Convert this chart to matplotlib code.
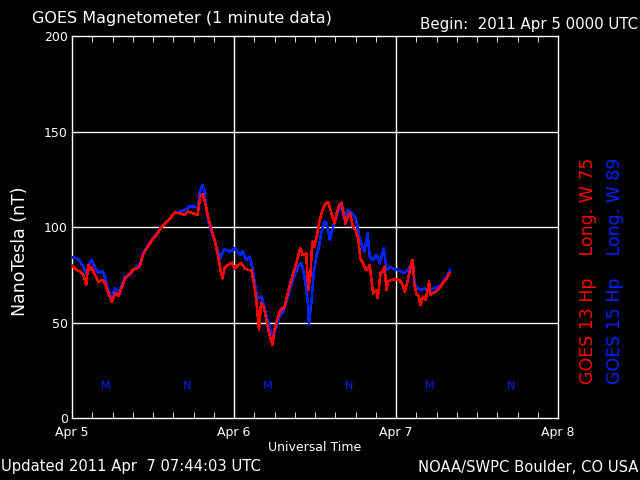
import matplotlib
matplotlib.use("Agg")
import matplotlib.pyplot as plt

# hours since 2011 Apr 5 00:00 UTC, field in nT
red_hours = [0.0, 0.7, 1.2, 1.7, 2.1, 2.4, 2.7, 2.9, 3.4, 3.9, 4.5, 4.9, 5.4, 5.9, 6.4, 6.9,
             7.4, 7.8, 8.6, 9.1, 9.6, 10.1, 10.5, 11.3, 12.0, 12.8, 13.3, 14.5, 15.2, 16.0,
             16.7, 17.2, 17.9, 18.6, 19.0, 19.3, 19.7, 20.1, 20.6, 21.2, 21.6, 22.0, 22.3,
             22.6, 23.1, 23.7, 24.1, 24.6, 25.1, 25.6, 26.1, 26.6, 26.9, 27.3, 27.7, 28.0,
             28.4, 28.8, 29.2, 29.7, 30.0, 30.5, 30.9, 31.5, 32.2, 33.0, 33.5, 33.8, 34.2,
             34.7, 35.0, 35.3, 35.6, 35.9, 36.3, 36.7, 37.1, 37.6, 37.9, 38.3, 38.6, 38.9,
             39.2, 39.6, 39.9, 40.2, 40.5, 40.9, 41.2, 41.6, 42.0, 42.4, 42.7, 43.1, 43.6,
             44.1, 44.6, 45.1, 45.3, 45.7, 46.0, 46.3, 46.6, 46.8, 47.3, 47.8, 48.5, 49.0,
             49.3, 49.7, 50.3, 50.5, 50.7, 51.0, 51.4, 51.6, 52.0, 52.4, 52.9, 53.1, 53.4,
             53.9, 54.4, 54.9, 55.4, 55.9]
red_nt = [79.6, 77.5, 76.6, 74.9, 69.6, 80.1, 77.5, 79.2, 74.9, 71.4, 72.3, 70.5, 65.3, 60.9,
          65.3, 63.8, 68.7, 72.9, 75.8, 77.8, 78.4, 80.1, 85.5, 90.2, 93.8, 97.3, 100.2, 104.5,
          107.5, 107.2, 106.3, 108.0, 107.2, 106.3, 115.9, 117.3, 113.2, 106.3, 99.3, 92.3,
          85.3, 77.5, 73.1, 78.4, 80.1, 81.3, 78.4, 80.1, 81.0, 78.4, 77.5, 77.5, 71.4, 61.8,
          46.1, 60.0, 58.3, 51.3, 44.3, 38.2, 46.1, 53.0, 56.5, 58.3, 68.7, 78.4, 84.5, 88.8,
          85.3, 86.2, 67.0, 74.0, 92.3, 89.7, 95.8, 103.7, 108.9, 112.4, 113.2, 108.9, 105.4,
          101.9, 107.2, 111.5, 112.7, 108.0, 101.9, 105.4, 107.2, 100.2, 98.4, 94.1, 83.6,
          81.0, 77.5, 80.1, 65.3, 67.0, 62.7, 75.8, 76.6, 79.2, 67.0, 71.4, 72.3, 72.6, 72.3,
          69.6, 66.1, 71.4, 81.8, 82.7, 70.5, 65.3, 63.5, 59.2, 63.5, 61.8, 71.4, 64.4, 65.3,
          66.1, 67.9, 70.5, 72.3, 75.8]

blue_hours = [0.0, 0.7, 1.2, 1.7, 2.2, 2.6, 2.9, 3.4, 3.9, 4.5, 4.9, 5.2, 5.9, 6.4, 6.9, 7.4,
              7.8, 8.6, 9.1, 9.6, 10.1, 10.5, 11.3, 12.0, 12.8, 13.3, 14.5, 15.2, 16.0, 16.7,
              17.5, 18.2, 18.7, 18.9, 19.3, 19.6, 19.9, 20.4, 20.9, 21.4, 21.9, 22.1, 22.6,
              23.4, 24.1, 24.9, 25.3, 25.8, 26.3, 26.7, 27.1, 27.4, 28.1, 28.6, 29.0, 29.4,
              29.8, 30.3, 30.7, 31.3, 32.0, 32.7, 33.5, 34.0, 34.2, 34.6, 35.0, 35.1, 35.5,
              35.8, 36.2, 36.6, 36.9, 37.4, 37.7, 38.2, 38.4, 38.7, 39.1, 39.4, 39.9, 40.4,
              40.9, 41.4, 41.9, 42.2, 42.6, 43.0, 43.3, 43.8, 44.1, 44.6, 45.1, 45.6, 46.2,
              46.6, 47.0, 47.5, 48.1, 48.8, 49.3, 49.7, 50.3, 50.6, 50.9, 51.2, 51.7, 52.2,
              52.7, 53.2, 53.7, 54.2, 54.7, 55.2, 55.7, 56.0]
blue_nt = [84.1, 83.6, 81.8, 79.2, 74.9, 81.0, 82.7, 79.2, 75.8, 77.1, 74.0, 68.7, 63.5, 67.9,
           65.3, 69.6, 74.0, 74.9, 77.8, 78.9, 81.0, 86.2, 90.6, 94.1, 97.5, 100.2, 104.5,
           107.5, 108.0, 108.9, 111.0, 110.6, 109.8, 117.6, 122.0, 119.4, 108.9, 100.2, 94.9,
           89.7, 83.6, 85.3, 88.3, 87.1, 88.8, 85.3, 87.1, 82.7, 84.5, 79.2, 70.5, 62.7, 63.5,
           56.5, 51.3, 46.1, 43.5, 47.8, 53.0, 55.7, 63.5, 72.3, 79.2, 81.0, 78.4, 70.5, 58.3,
           48.7, 61.8, 75.8, 84.5, 89.7, 96.7, 102.8, 101.9, 93.2, 96.7, 100.2, 104.5, 108.9,
           110.6, 104.5, 108.9, 107.2, 105.4, 101.9, 94.1, 89.7, 87.1, 96.7, 84.5, 82.7, 85.3,
           81.0, 88.8, 77.5, 79.2, 78.4, 77.5, 76.6, 75.8, 77.5, 80.1, 74.9, 68.7, 67.9, 67.0,
           67.9, 67.0, 67.4, 67.9, 68.7, 69.6, 72.3, 74.9, 77.5]

# M / N markers (local midnight / noon of GOES-13)
mark_hours = [5, 17, 29, 41, 53, 65]
mark_text = ["M", "N", "M", "N", "M", "N"]
mark_level = 16.7

day_ticks = [0, 24, 48, 72]
day_labels = ["Apr 5", "Apr 6", "Apr 7", "Apr 8"]
y_ticks = [0, 50, 100, 150, 200]

BG = "black"
FG = "white"
RED = "#ff0000"
BLUE = "#0022ff"

fig = plt.figure(figsize=(6.4, 4.8), dpi=100)
fig.patch.set_facecolor(BG)
ax = fig.add_axes([72 / 640, 62 / 480, 486 / 640, 382 / 480])
ax.set_facecolor(BG)

ax.plot(blue_hours, blue_nt, color=BLUE, lw=1.1, antialiased=False, zorder=3)
ax.plot(red_hours, red_nt, color=RED, lw=1.1, antialiased=False, zorder=4)

for h, t in zip(mark_hours, mark_text):
    ax.text(h, mark_level, t, color=BLUE, fontsize=8, ha="center", va="center")

ax.set_xlim(0, 72)
ax.set_ylim(0, 200)
ax.set_xticks(day_ticks)
ax.set_xticklabels(day_labels)
ax.set_xticks(range(0, 73, 3), minor=True)
ax.set_yticks(y_ticks)

for s in ax.spines.values():
    s.set_color(FG)
    s.set_linewidth(1)

ax.tick_params(axis="x", which="both", direction="in", top=True, bottom=True,
               colors=FG, labelsize=9, pad=6)
ax.tick_params(axis="x", which="major", length=0)
ax.tick_params(axis="x", which="minor", length=4)
ax.tick_params(axis="y", length=0, colors=FG, labelsize=9, pad=3)

for v in [50, 100, 150]:
    ax.axhline(v, color=FG, lw=1, zorder=2)
for h in [24, 48]:
    ax.axvline(h, color=FG, lw=1, zorder=2)

ax.set_xlabel("Universal Time", color=FG, fontsize=9, labelpad=1)

fig.text(20 / 640, 1 - 251 / 480, "NanoTesla (nT)", color=FG, fontsize=12.5,
         rotation=90, ha="center", va="center")
fig.text(32 / 640, 1 - 18 / 480, "GOES Magnetometer (1 minute data)", color=FG,
         fontsize=11.5, ha="left", va="center")
fig.text(638 / 640, 1 - 24 / 480, "Begin:  2011 Apr 5 0000 UTC", color=FG,
         fontsize=10.8, ha="right", va="center")
fig.text(1 / 640, 1 - 467 / 480, "Updated 2011 Apr  7 07:44:03 UTC", color=FG,
         fontsize=10.6, ha="left", va="center")
fig.text(638 / 640, 1 - 467 / 480, "NOAA/SWPC Boulder, CO USA", color=FG,
         fontsize=10.6, ha="right", va="center")
fig.text(588 / 640, 1 - 271 / 480, "GOES 13 Hp    Long. W 75", color=RED,
         fontsize=12.5, rotation=90, ha="center", va="center")
fig.text(615 / 640, 1 - 271 / 480, "GOES 15 Hp    Long. W 89", color=BLUE,
         fontsize=12.5, rotation=90, ha="center", va="center")

fig.savefig("out.png", dpi=100, facecolor=BG)
